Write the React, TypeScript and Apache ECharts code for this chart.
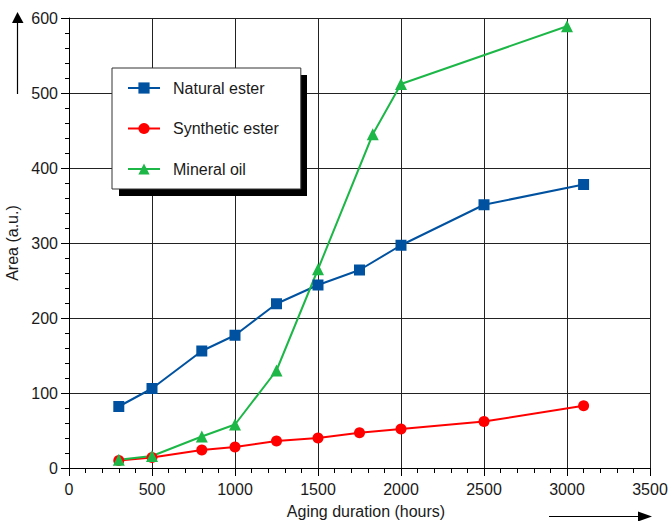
import React, { useEffect, useRef } from "react";
import * as echarts from "echarts";

// Aging duration (hours) for the ester samples
const esterHours = [300, 500, 800, 1000, 1250, 1500, 1750, 2000, 2500, 3100];
const naturalEster = [82, 106, 156, 177, 219, 244, 264, 297, 351, 378];
const syntheticEster = [10, 14, 24, 28, 36, 40, 47, 52, 62, 83];

// Mineral oil was sampled on its own schedule
const mineralHours = [300, 500, 800, 1000, 1250, 1500, 1830, 2000, 3000];
const mineralOil = [11, 16, 42, 58, 130, 265, 445, 512, 589];

const seriesNames = ["Natural ester", "Synthetic ester", "Mineral oil"];
const seriesColors = ["#0052a0", "#ff0000", "#1db748"];

const FONT = "'Liberation Sans', Arial, sans-serif";
const INK = "#1a1a1a";

const pair = (xs: number[], ys: number[]) => xs.map((x, i) => [x, ys[i]]);
const plain = (v: number) => String(v);

export default function App() {
  const ref = useRef<HTMLDivElement>(null);

  useEffect(() => {
    if (!ref.current) return;
    const chart = echarts.init(ref.current, null, { renderer: "svg" });

    const lineSeries = (
      name: string,
      color: string,
      data: number[][],
      symbol: string,
      symbolSize: number
    ) => ({
      name,
      type: "line",
      data,
      symbol,
      symbolSize,
      showAllSymbol: true,
      lineStyle: { color, width: 2 },
      itemStyle: { color },
      emphasis: { disabled: true },
      z: 3,
    });

    chart.setOption({
      animation: false,
      backgroundColor: "#ffffff",
      textStyle: { fontFamily: FONT },
      grid: {
        left: 69,
        right: 20,
        top: 18,
        bottom: 53,
        containLabel: false,
        outerBoundsMode: "none",
      },
      xAxis: {
        type: "value",
        min: 0,
        max: 3500,
        interval: 500,
        name: "Aging duration (hours)",
        nameLocation: "middle",
        nameGap: 35,
        nameTextStyle: {
          fontFamily: FONT,
          fontSize: 16,
          color: INK,
          padding: [0, 0, 0, 13],
          verticalAlign: "top",
        },
        axisLine: { show: true, lineStyle: { color: "#000", width: 1 } },
        axisTick: { show: true, inside: false, length: 8, lineStyle: { color: "#000" } },
        minorTick: { show: true, splitNumber: 5, length: 5, lineStyle: { color: "#000" } },
        axisLabel: { fontFamily: FONT, fontSize: 16, color: INK, margin: 13, formatter: plain },
        splitLine: { show: true, lineStyle: { color: "#222", width: 1 } },
      },
      yAxis: {
        type: "value",
        min: 0,
        max: 600,
        interval: 100,
        name: "Area (a.u.)",
        nameLocation: "middle",
        nameGap: 44,
        nameTextStyle: { fontFamily: FONT, fontSize: 16, color: INK },
        axisLine: { show: true, lineStyle: { color: "#000", width: 1 } },
        axisTick: { show: true, inside: false, length: 8, lineStyle: { color: "#000" } },
        minorTick: { show: true, splitNumber: 5, length: 4, lineStyle: { color: "#000" } },
        axisLabel: { fontFamily: FONT, fontSize: 16, color: INK, margin: 11, formatter: plain },
        splitLine: { show: true, lineStyle: { color: "#222", width: 1 } },
      },
      legend: {
        orient: "vertical",
        left: 112,
        top: 68,
        data: seriesNames,
        backgroundColor: "#ffffff",
        borderColor: "#333",
        borderWidth: 1,
        borderRadius: 0,
        padding: [12, 22, 12, 15],
        itemWidth: 32,
        itemHeight: 14,
        itemGap: 24.5,
        selectedMode: false,
        textStyle: {
          fontFamily: FONT,
          fontSize: 16,
          color: INK,
          padding: [0, 0, 0, 8],
        },
        z: 10,
      },
      graphic: [
        // hard drop shadow behind the legend box
        {
          type: "rect",
          z: 6,
          shape: { x: 119, y: 75, width: 188, height: 121 },
          style: { fill: "#000" },
        },
        // upward arrow beside the value axis
        {
          type: "line",
          z: 6,
          shape: { x1: 17.5, y1: 94, x2: 17.5, y2: 20 },
          style: { stroke: "#000", lineWidth: 1.2 },
        },
        {
          type: "polygon",
          z: 6,
          shape: { points: [[12, 23], [23.5, 23], [17.5, 12]] },
          style: { fill: "#000" },
        },
        // rightward arrow under the duration axis
        {
          type: "line",
          z: 6,
          shape: { x1: 549, y1: 516.5, x2: 642, y2: 516.5 },
          style: { stroke: "#000", lineWidth: 1.2 },
        },
        {
          type: "polygon",
          z: 6,
          shape: { points: [[638, 511.5], [638, 521.5], [652, 516.5]] },
          style: { fill: "#000" },
        },
      ],
      series: [
        lineSeries(seriesNames[0], seriesColors[0], pair(esterHours, naturalEster), "rect", 11),
        lineSeries(seriesNames[1], seriesColors[1], pair(esterHours, syntheticEster), "circle", 11),
        lineSeries(seriesNames[2], seriesColors[2], pair(mineralHours, mineralOil), "triangle", 12),
      ],
    });

    return () => chart.dispose();
  }, []);

  return (
    <div
      ref={ref}
      style={{ position: "fixed", left: 0, top: 0, width: 670, height: 521, background: "#fff" }}
    />
  );
}
